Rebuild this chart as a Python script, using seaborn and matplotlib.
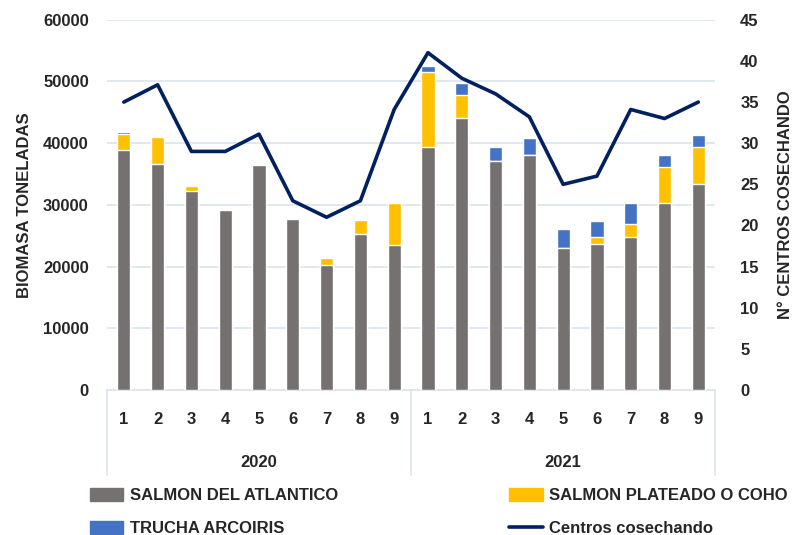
import numpy as np
import pandas as pd
import matplotlib
matplotlib.use("Agg")
import matplotlib.pyplot as plt
import seaborn as sns
from matplotlib.patches import Patch
from matplotlib.lines import Line2D

# data (tonnes, harvested centres)
years = ["2020", "2021"]
months = ["1", "2", "3", "4", "5", "6", "7", "8", "9"]

salmon_atlantico = [38900, 36650, 32200, 29100, 36450, 27700, 20200, 25350, 23450,
                    39450, 44150, 37100, 38050, 22950, 23700, 24850, 30250, 33350]
salmon_coho = [2600, 4400, 900, 250, 0, 250, 1200, 2150, 6800,
               12150, 3700, 0, 0, 0, 1100, 2100, 5850, 6100]
trucha_arcoiris = [300, 0, 0, 0, 0, 0, 0, 0, 250,
                   900, 1900, 2350, 2750, 3100, 2650, 3300, 1950, 1850]
centros = [35, 37.1, 29, 29, 31.1, 23, 21, 23, 34.1,
           41, 37.9, 36, 33.2, 25, 26, 34.1, 33, 35]

c_gray = "#767171"
c_gold = "#FFC000"
c_blue = "#4472C4"
c_navy = "#002060"
c_grid = "#DCE3EC"

sns.set_theme(style="white")
plt.rcParams["font.family"] = ["Liberation Sans Narrow", "Liberation Sans", "DejaVu Sans"]
plt.rcParams["font.weight"] = "bold"

labels = [f"{y}-{m}" for y in years for m in months]
pos = np.arange(len(labels))
df = pd.DataFrame({
    "periodo": labels,
    "atl": salmon_atlantico,
    "atl_coho": np.add(salmon_atlantico, salmon_coho),
    "total": np.add(np.add(salmon_atlantico, salmon_coho), trucha_arcoiris),
    "centros": centros,
    "pos": pos,
})

fig = plt.figure(figsize=(8.1, 5.35), dpi=100)
ax = fig.add_axes([0.132, 0.271, 0.751, 0.692])

# stacked bars drawn as overlapping cumulative totals
sns.barplot(data=df, x="periodo", y="total", color=c_blue, width=0.39,
            saturation=1, ax=ax, zorder=2)
sns.barplot(data=df, x="periodo", y="atl_coho", color=c_gold, width=0.39,
            saturation=1, ax=ax, zorder=3)
sns.barplot(data=df, x="periodo", y="atl", color=c_gray, width=0.39,
            saturation=1, ax=ax, zorder=4)

ax.set_xlim(-0.5, len(labels) - 0.5)
ax.set_ylim(0, 60000)
ax.set_yticks(np.arange(0, 60001, 10000))
ax.yaxis.grid(True, color=c_grid, linewidth=1.2, zorder=0)
ax.set_axisbelow(True)
ax.set_xticks(pos)
ax.set_xticklabels(months * len(years), fontsize=12, fontweight="bold")
ax.tick_params(axis="x", length=0, pad=16)
ax.tick_params(axis="y", length=0, labelsize=12, pad=13)
for t in ax.get_yticklabels():
    t.set_fontweight("bold")
ax.set_xlabel("")
ax.set_ylabel("BIOMASA TONELADAS", fontsize=12, fontweight="bold", labelpad=8)
for s in ["top", "left", "right"]:
    ax.spines[s].set_visible(False)
ax.spines["bottom"].set_color(c_grid)
ax.spines["bottom"].set_linewidth(1.2)

# year groups below the month labels
trans = ax.get_xaxis_transform()
for i, yr in enumerate(years):
    ax.text(i * len(months) + (len(months) - 1) / 2, -0.195, yr, transform=trans,
            ha="center", va="center", fontsize=12, fontweight="bold")
for xb in [-0.5, len(months) - 0.5, 2 * len(months) - 0.5]:
    ax.plot([xb, xb], [0, -0.23], transform=trans, color=c_grid,
            linewidth=1.2, clip_on=False)

ax2 = ax.twinx()
sns.lineplot(data=df, x="pos", y="centros", color=c_navy, linewidth=2.6,
             ax=ax2, zorder=5)
ax2.set_ylim(0, 45)
ax2.set_yticks(np.arange(0, 46, 5))
ax2.tick_params(axis="y", length=0, labelsize=12, pad=18)
for t in ax2.get_yticklabels():
    t.set_fontweight("bold")
ax2.set_ylabel("N° CENTROS COSECHANDO", fontsize=12, fontweight="bold", labelpad=14)
ax2.set_xlabel("")
for s in ["top", "left", "right", "bottom"]:
    ax2.spines[s].set_visible(False)
ax2.grid(False)

handles = [
    Patch(color=c_gray, label="SALMON DEL ATLANTICO"),
    Patch(color=c_blue, label="TRUCHA ARCOIRIS"),
    Patch(color=c_gold, label="SALMON PLATEADO O COHO"),
    Line2D([0], [0], color=c_navy, linewidth=2.6, label="Centros cosechando"),
]
fig.legend(handles=handles, ncol=2, loc="lower left", bbox_to_anchor=(0.092, -0.03),
           frameon=False, columnspacing=10.3, handlelength=2.0,
           handleheight=0.8, handletextpad=0.4, labelspacing=1.05,
           prop={"weight": "bold", "size": 12})

fig.savefig("out.png", dpi=100)
